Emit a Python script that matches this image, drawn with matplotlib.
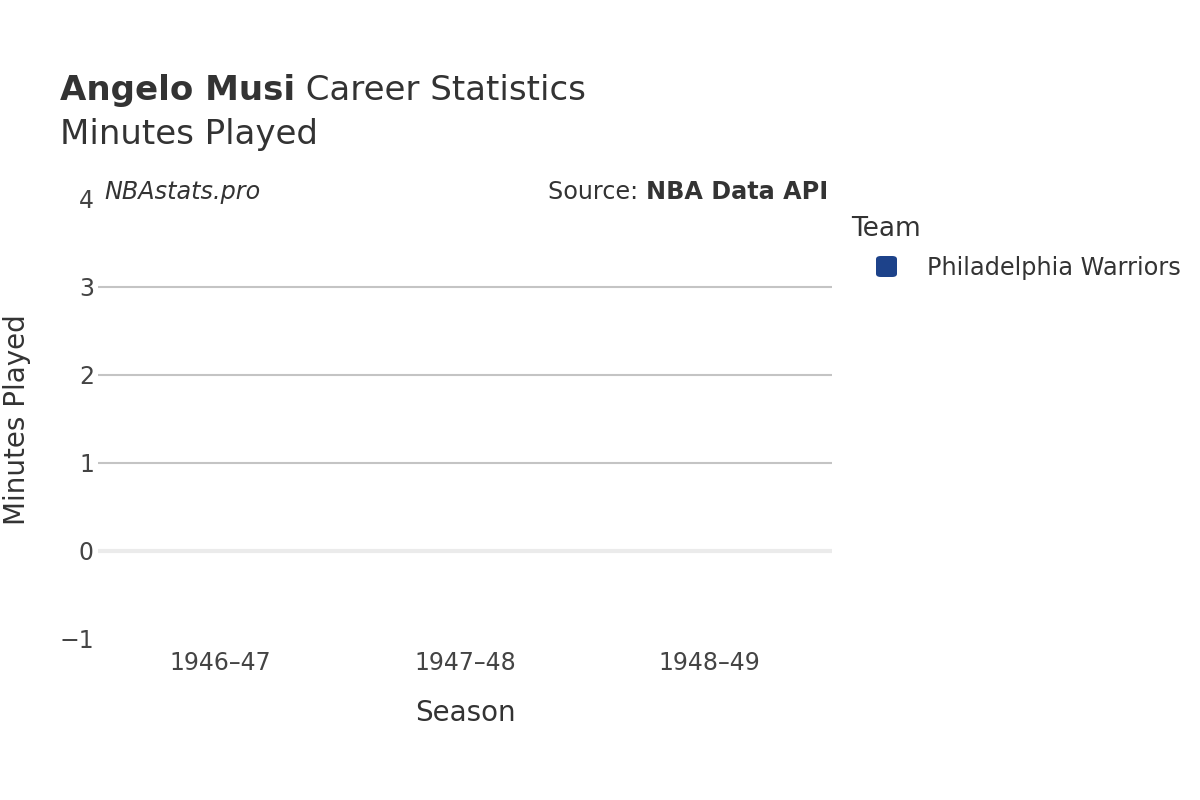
import matplotlib
matplotlib.use("Agg")
import matplotlib.pyplot as plt
from matplotlib.patches import FancyBboxPatch

seasons = ["1946–47", "1947–48", "1948–49"]
minutes = [0, 0, 0]
team = "Philadelphia Warriors"
team_color = "#1d428a"
y_ticks = [-1, 0, 1, 2, 3, 4]

plt.rcParams["font.family"] = ["DejaVu Sans"]
text_color = "#333333"
tick_color = "#444444"

fig = plt.figure(figsize=(12, 8), dpi=100)
ax = fig.add_axes([98 / 1200, 1 - 639 / 800, 734 / 1200, 440 / 800])

ax.bar(range(len(seasons)), minutes, width=0.8, color=team_color)

ax.set_xlim(-0.5, len(seasons) - 0.5)
ax.set_ylim(min(y_ticks), max(y_ticks))
ax.set_xticks(range(len(seasons)))
ax.set_xticklabels(seasons)
ax.set_yticks(y_ticks)
ax.tick_params(axis="x", length=0, pad=9, labelsize=17, labelcolor=tick_color)
ax.tick_params(axis="y", length=0, pad=3, labelsize=17, labelcolor=tick_color)
for s in ax.spines.values():
    s.set_visible(False)

# grid lines only inside the range, zero line lighter and thicker
for v in y_ticks:
    if v == 0:
        ax.axhline(v, color="#ebebeb", linewidth=3, zorder=0)
    elif min(y_ticks) < v < max(y_ticks):
        ax.axhline(v, color="#c4c4c4", linewidth=1.5, zorder=0)

# titles
t1 = fig.text(60 / 1200, 1 - 100 / 800, "Angelo Musi", fontsize=24.5, fontweight="bold",
              color=text_color, ha="left", va="baseline")
fig.canvas.draw()
bb = t1.get_window_extent()
fig.text(bb.x1 / 1200, 1 - 100 / 800, " Career Statistics", fontsize=24.5,
         color=text_color, ha="left", va="baseline")
fig.text(60 / 1200, 1 - 144 / 800, "Minutes Played", fontsize=24.5,
         color=text_color, ha="left", va="baseline")

# axis titles
fig.text(465 / 1200, 1 - 721 / 800, "Season", fontsize=20, color=text_color,
         ha="center", va="baseline")
fig.text(17 / 1200, 1 - 420 / 800, "Minutes Played", fontsize=20, color=text_color,
         ha="center", va="center", rotation=90)

# watermark and source
fig.text(104 / 1200, 1 - 199 / 800, "NBAstats.pro", fontsize=17.2, style="italic",
         color=text_color, ha="left", va="baseline")
src = fig.text(828 / 1200, 1 - 199 / 800, "NBA Data API", fontsize=17.2, fontweight="bold",
               color=text_color, ha="right", va="baseline")
fig.canvas.draw()
bb2 = src.get_window_extent()
fig.text(bb2.x0 / 1200, 1 - 199 / 800, "Source: ", fontsize=17.2, color=text_color,
         ha="right", va="baseline")

# legend
fig.text(851 / 1200, 1 - 236 / 800, "Team", fontsize=19, color=text_color,
         ha="left", va="baseline")
fig.add_artist(FancyBboxPatch((876 / 1200, 1 - 277 / 800), 21 / 1200, 21 / 800,
                              boxstyle="round,pad=0,rounding_size=0.004",
                              transform=fig.transFigure, facecolor=team_color,
                              edgecolor="none"))
fig.text(927 / 1200, 1 - 275 / 800, team, fontsize=17.3, color=text_color,
         ha="left", va="baseline")

fig.savefig("out.png", dpi=100, facecolor="white")
